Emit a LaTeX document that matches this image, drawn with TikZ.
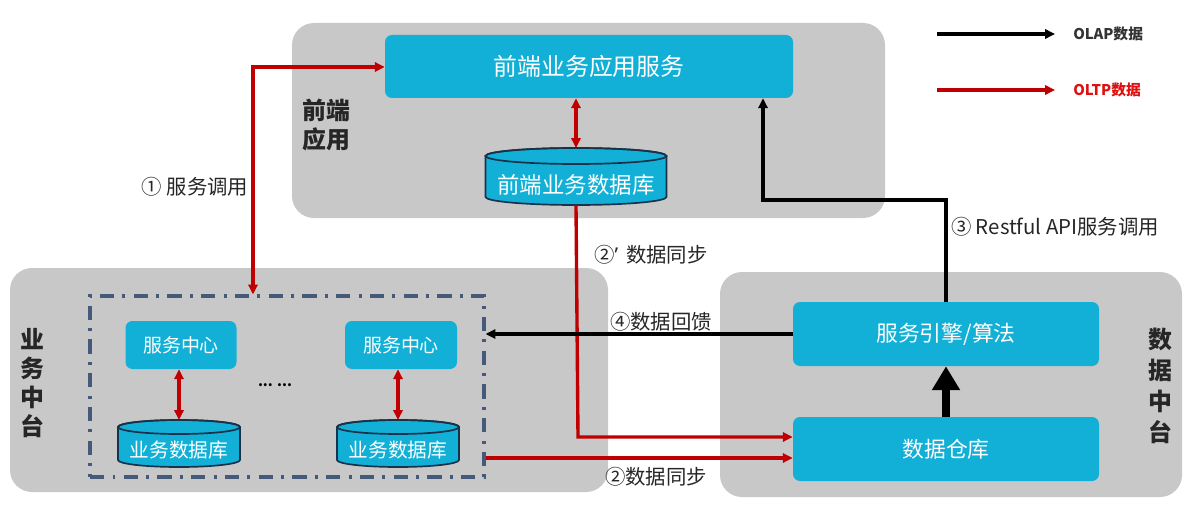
\documentclass[tikz,border=0pt]{standalone}
\usepackage{fontspec}
\setmainfont{Noto Sans CJK SC}
\newfontfamily\latinf{Noto Sans}
\usetikzlibrary{arrows.meta}
\newlength\pxu
\setlength\pxu{0.025cm}
\definecolor{panelgray}{RGB}{200,200,200}
\definecolor{cyanb}{RGB}{18,176,214}
\definecolor{redc}{RGB}{192,0,0}
\definecolor{legred}{RGB}{222,16,16}
\definecolor{cylline}{RGB}{25,50,75}
\definecolor{grpblue}{RGB}{68,90,120}
\newcommand{\fsz}[1]{\fontsize{#1pt}{#1pt}\selectfont}
% #1 name, #2 cx, #3 top, #4 bottom, #5 half width, #6 ry, #7 text, #8 font size
\newcommand{\dbcyl}[8]{%
  \filldraw[fill=cyanb, draw=cylline, line width=1.2pt]
    (#2-#5,#3-#6) -- (#2-#5,#4+#6)
    arc[start angle=180, end angle=360, x radius=#5, y radius=#6]
    -- (#2+#5,#3-#6)
    arc[start angle=0, end angle=180, x radius=#5, y radius=#6] -- cycle;
  \draw[draw=cylline, line width=1.2pt] (#2,#3-#6) ellipse[x radius=#5, y radius=#6];
  \node[cyltext, font=\fsz{#8}] (#1) at (#2,{(#3-2*#6+#4)/2}) {#7};
  \coordinate (#1t) at (#2,#3);
  \coordinate (#1b) at (#2,#4);
}
\tikzset{
  panel/.style={fill=panelgray, draw=none, rounded corners=22\pxu, inner sep=0pt},
  cbox/.style={fill=cyanb, draw=none, rounded corners=7\pxu, text=white, inner sep=0pt},
  cyltext/.style={text=white, inner sep=0pt},
  paneltitle/.style={font=\bfseries\fsz{17}, text=black!85, align=center, inner sep=0pt},
  lbl/.style={font=\fsz{14.5}, text=black!85, inner sep=0pt},
  grp/.style={draw=grpblue, line width=2.2pt, dash pattern=on 10pt off 6pt on 2pt off 6pt, inner sep=0pt},
  redarr/.style={draw=redc, line width=2.4pt, -{Triangle[length=7pt,width=6.5pt]}},
  redboth/.style={draw=redc, line width=2.4pt, {Triangle[length=7pt,width=6.5pt]}-{Triangle[length=7pt,width=6.5pt]}},
  blkarr/.style={draw=black, line width=2.2pt, -{Triangle[length=7pt,width=6.5pt]}},
  legtext/.style={font=\bfseries\fsz{10.5}, anchor=west, inner sep=0pt},
}
\begin{document}
\begin{tikzpicture}[x=0.025cm, y=0.025cm]
\useasboundingbox (0,0) rectangle (1191,515);
\fill[white] (0,0) rectangle (1191,515);

% panels
\node[panel, minimum width=593\pxu, minimum height=195\pxu] (front) at (588.5,394.5) {};
\node[panel, minimum width=598\pxu, minimum height=224\pxu] (biz) at (309,135) {};
\node[panel, minimum width=462\pxu, minimum height=225\pxu] (data) at (951,130.5) {};

% panel titles
\node[paneltitle, font=\bfseries\fontsize{17pt}{21pt}\selectfont] (tfront) at (326,390) {前端\\应用};
\node[paneltitle, font=\bfseries\fontsize{17pt}{20.5pt}\selectfont] (tbiz) at (32,132) {业\\务\\中\\台};
\node[paneltitle, font=\bfseries\fontsize{17pt}{22pt}\selectfont] (tdata) at (1160,129) {数\\据\\中\\台};

% front application
\node[cbox, font=\fsz{17}, minimum width=408\pxu, minimum height=63\pxu] (fsvc) at (589,448.5) {前端业务应用服务};
\dbcyl{fdb}{576}{367}{310}{90.5}{8}{前端业务数据库}{16}

% business middle platform
\node[grp, minimum width=394\pxu, minimum height=181\pxu] (grp) at (287,128.5) {};
\node[cbox, font=\fsz{13.5}, minimum width=111\pxu, minimum height=48\pxu] (svc1) at (181,170) {服务中心};
\node[cbox, font=\fsz{13.5}, minimum width=112\pxu, minimum height=48\pxu] (svc2) at (401,170) {服务中心};
\dbcyl{db1}{179}{95}{48}{61}{7}{业务数据库}{14}
\dbcyl{db2}{398}{95}{48}{61}{7}{业务数据库}{14}
\node[font=\bfseries\fsz{10}, inner sep=0pt] (dots) at (275,130) {\textbf{... ...}};

% data middle platform
\node[cbox, font=\fsz{15.5}, minimum width=306\pxu, minimum height=64\pxu] (eng) at (946,181) {服务引擎/算法};
\node[cbox, font=\fsz{15.5}, minimum width=306\pxu, minimum height=64\pxu] (dw) at (946,66) {数据仓库};

% internal red double arrows
\draw[redboth] (fdbt |- fsvc.south) -- (fdbt);
\draw[redboth] (svc1.south -| db1t) -- (db1t);
\draw[redboth] (svc2.south -| db2t) -- (db2t);

% thick arrow
\draw[line width=5.5pt, -{Triangle[length=17pt,width=19pt]}] (dw.north) -- (eng.south);

% (1) service call
\coordinate (p1) at (253,448);
\draw[redboth] (p1 |- grp.north) -- (p1) -- (p1 -| fsvc.west);
\node[lbl] (l1) at (195,328) {① 服务调用};

% (2') data sync from front db
\coordinate (p2) at (578,78);
\draw[redarr] (fdbb) -- (p2) -- (p2 -| dw.west);
\node[lbl] (l2p) at (651,260) {②{\latinf\bfseries ’}\, 数据同步};

% (2) data sync from business
\coordinate (p3) at (484,57);
\draw[redarr] (p3 -| grp.east) -- (p3 -| dw.west);
\node[lbl] (l2) at (656,38) {②数据同步};

% (4) data feedback
\draw[blkarr] (eng.west) -- (eng.west -| grp.east);
\node[lbl] (l4) at (661,193) {④数据回馈};

% (3) restful api
\coordinate (p4) at (763,315);
\draw[blkarr] (eng.north) |- (p4) -- (p4 |- fsvc.south);
\node[lbl] (l3) at (1055,288) {③ Restful API服务调用};

% legend
\coordinate (la1) at (937,481);
\coordinate (la2) at (1055,481);
\draw[blkarr] (la1) -- (la2);
\node[legtext, text=black!80] (olap) at (1073,481) {OLAP数据};
\coordinate (lt1) at (937,425);
\coordinate (lt2) at (1055,425);
\draw[redarr] (lt1) -- (lt2);
\node[legtext, text=legred] (oltp) at (1073,425) {OLTP数据};
\end{tikzpicture}
\end{document}
